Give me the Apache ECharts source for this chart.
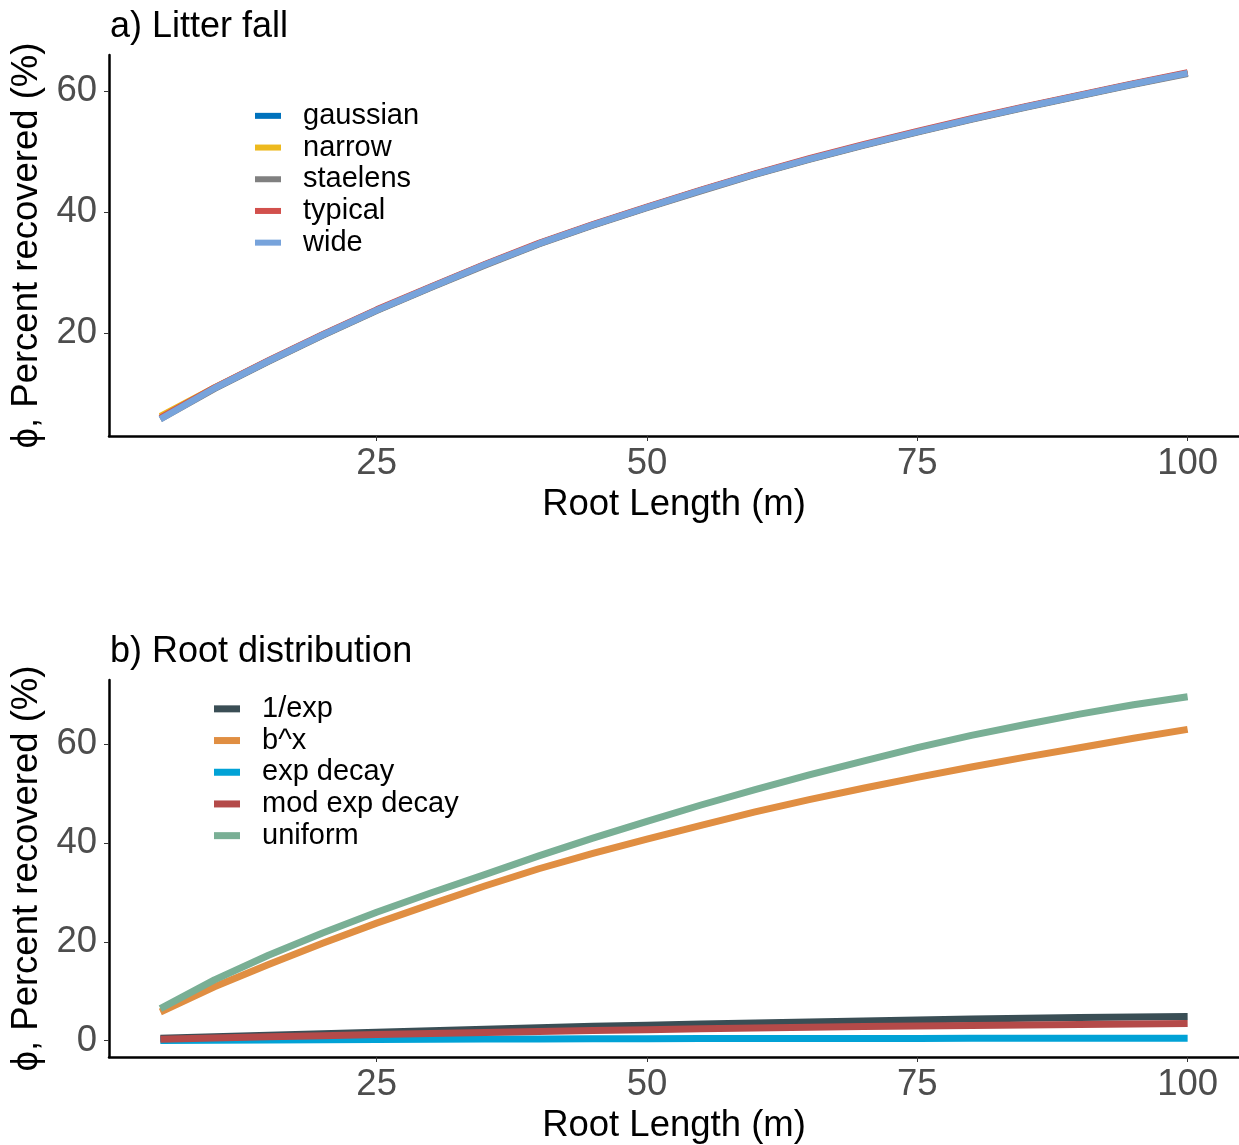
<!DOCTYPE html>
<html>
<head>
<meta charset="utf-8">
<script src="https://cdn.jsdelivr.net/npm/echarts@6/dist/echarts.min.js"></script>
<style>
  html, body { margin: 0; padding: 0; background: #fff; }
  #chart { width: 1239px; height: 1145px; }
</style>
</head>
<body>
<div id="chart"></div>
<script>
// Root length (m) at which recovery was evaluated
const rootLength = [5, 10, 15, 20, 25, 30, 35, 40, 45, 50, 55, 60, 65, 70, 75, 80, 85, 90, 95, 100];

// Panel a) litter fall scenarios, phi (%)
const gaussian = [5.9, 10.9, 15.4, 19.7, 23.8, 27.6, 31.3, 34.8, 37.9, 40.8, 43.6, 46.3, 48.8, 51.1, 53.3, 55.4, 57.4, 59.3, 61.2, 63.0];
const narrow   = [6.3, 11.0, 15.4, 19.7, 23.8, 27.6, 31.3, 34.8, 37.9, 40.8, 43.6, 46.3, 48.8, 51.1, 53.3, 55.4, 57.4, 59.3, 61.2, 63.0];
const staelens = [5.8, 10.8, 15.3, 19.6, 23.7, 27.5, 31.2, 34.7, 37.8, 40.7, 43.5, 46.2, 48.7, 51.0, 53.2, 55.3, 57.3, 59.2, 61.1, 62.9];
const typical  = [6.0, 11.0, 15.5, 19.8, 23.9, 27.7, 31.4, 34.9, 38.0, 40.9, 43.7, 46.4, 48.9, 51.2, 53.4, 55.5, 57.5, 59.4, 61.3, 63.1];
const wide     = [5.8, 10.9, 15.4, 19.7, 23.8, 27.6, 31.3, 34.8, 37.9, 40.8, 43.6, 46.3, 48.8, 51.1, 53.3, 55.4, 57.4, 59.3, 61.2, 63.0];

// Panel b) root distribution scenarios, phi (%)
const invExp      = [0.5, 0.8, 1.1, 1.4, 1.7, 2.0, 2.3, 2.6, 2.9, 3.15, 3.4, 3.6, 3.8, 4.0, 4.2, 4.4, 4.55, 4.7, 4.8, 4.9];
const bPowX       = [5.8, 10.9, 15.4, 19.7, 23.8, 27.6, 31.3, 34.8, 37.9, 40.8, 43.6, 46.3, 48.8, 51.1, 53.3, 55.4, 57.4, 59.3, 61.2, 63.0];
const expDecay    = [0.05, 0.1, 0.15, 0.2, 0.25, 0.3, 0.33, 0.36, 0.38, 0.4, 0.42, 0.43, 0.44, 0.45, 0.46, 0.47, 0.48, 0.49, 0.5, 0.5];
const modExpDecay = [0.3, 0.55, 0.8, 1.0, 1.25, 1.45, 1.65, 1.85, 2.05, 2.2, 2.4, 2.55, 2.7, 2.85, 2.95, 3.1, 3.2, 3.3, 3.4, 3.5];
const uniform     = [6.5, 12.3, 17.3, 21.8, 26.0, 29.9, 33.6, 37.4, 41.0, 44.4, 47.7, 50.8, 53.8, 56.6, 59.3, 61.8, 64.0, 66.1, 68.0, 69.6];

// Tick labels
const xTicks = [25, 50, 75, 100];
const yTicksA = [20, 40, 60];
const yTicksB = [0, 20, 40, 60];

const FONT = '"Liberation Sans", Arial, sans-serif';
const AXIS_FONT = 36.5;

function pairs(xs, ys) { return xs.map((x, i) => [x, ys[i]]); }

function xAxisFor(gridIndex) {
  return {
    type: 'value', gridIndex: gridIndex, min: 0.25, max: 104.75,
    name: 'Root Length (m)', nameLocation: 'middle', nameGap: 50,
    nameTextStyle: { fontFamily: FONT, fontSize: AXIS_FONT, color: '#000' },
    axisLine: { show: true, onZero: false, lineStyle: { color: '#000', width: 2.5 } },
    axisTick: { show: true, length: 5, customValues: xTicks, lineStyle: { color: '#333', width: 1 } },
    axisLabel: { customValues: xTicks, margin: 9, fontFamily: FONT, fontSize: AXIS_FONT, color: '#4D4D4D' },
    splitLine: { show: false }
  };
}

function yAxisFor(gridIndex, min, max, ticks) {
  return {
    type: 'value', gridIndex: gridIndex, min: min, max: max,
    name: 'ϕ, Percent recovered (%)', nameLocation: 'middle', nameGap: 64,
    nameTextStyle: { fontFamily: FONT, fontSize: AXIS_FONT, color: '#000' },
    axisLine: { show: true, onZero: false, lineStyle: { color: '#000', width: 2.5 } },
    axisTick: { show: true, length: 5, customValues: ticks, lineStyle: { color: '#333', width: 1 } },
    axisLabel: { customValues: ticks, margin: 12, fontFamily: FONT, fontSize: AXIS_FONT, color: '#4D4D4D' },
    splitLine: { show: false }
  };
}

function lineSeries(name, ys, color, width, axisIndex) {
  return {
    name: name, type: 'line', xAxisIndex: axisIndex, yAxisIndex: axisIndex,
    data: pairs(rootLength, ys), showSymbol: false, symbol: 'none', smooth: false,
    lineStyle: { color: color, width: width, cap: 'butt', join: 'round' },
    itemStyle: { color: color }, animation: false, silent: true
  };
}

const colorsA = { gaussian: '#0072BD', narrow: '#EDB91E', staelens: '#808080', typical: '#D2504C', wide: '#77A3DB' };
const colorsB = { '1/exp': '#3A4E55', 'b^x': '#E08E42', 'exp decay': '#01A2D6', 'mod exp decay': '#B44A49', 'uniform': '#79AF95' };

const legendText = { fontFamily: FONT, fontSize: 29, color: '#000', lineHeight: 31.7, padding: [0, 0, 0, 17] };

const option = {
  backgroundColor: '#fff',
  animation: false,
  title: [
    { text: 'a) Litter fall', left: 105, top: 4, textStyle: { fontFamily: FONT, fontSize: 36, fontWeight: 'normal', color: '#000' } },
    { text: 'b) Root distribution', left: 105, top: 629, textStyle: { fontFamily: FONT, fontSize: 36, fontWeight: 'normal', color: '#000' } }
  ],
  grid: [
    { left: 109, top: 55, width: 1131, height: 381 },
    { left: 109, top: 680, width: 1131, height: 381 }
  ],
  xAxis: [xAxisFor(0), xAxisFor(1)],
  yAxis: [yAxisFor(0, 3.0, 66.0, yTicksA), yAxisFor(1, -3.3, 73.0, yTicksB)],
  legend: [
    {
      data: Object.keys(colorsA), orient: 'vertical', left: 255, top: 100, padding: 0,
      icon: 'rect', itemWidth: 26, itemHeight: 6, itemGap: 0,
      textStyle: legendText, selectedMode: false
    },
    {
      data: Object.keys(colorsB), orient: 'vertical', left: 214, top: 693, padding: 0,
      icon: 'rect', itemWidth: 26, itemHeight: 7, itemGap: 0,
      textStyle: legendText, selectedMode: false
    }
  ],
  series: [
    lineSeries('gaussian', gaussian, colorsA.gaussian, 6.5, 0),
    lineSeries('narrow', narrow, colorsA.narrow, 6.5, 0),
    lineSeries('staelens', staelens, colorsA.staelens, 6.5, 0),
    lineSeries('typical', typical, colorsA.typical, 6.5, 0),
    lineSeries('wide', wide, colorsA.wide, 6.5, 0),
    lineSeries('1/exp', invExp, colorsB['1/exp'], 7, 1),
    lineSeries('b^x', bPowX, colorsB['b^x'], 7, 1),
    lineSeries('exp decay', expDecay, colorsB['exp decay'], 7, 1),
    lineSeries('mod exp decay', modExpDecay, colorsB['mod exp decay'], 7, 1),
    lineSeries('uniform', uniform, colorsB['uniform'], 7, 1)
  ]
};

const chart = echarts.init(document.getElementById('chart'), null, { renderer: 'canvas' });
chart.setOption(option);
</script>
</body>
</html>
